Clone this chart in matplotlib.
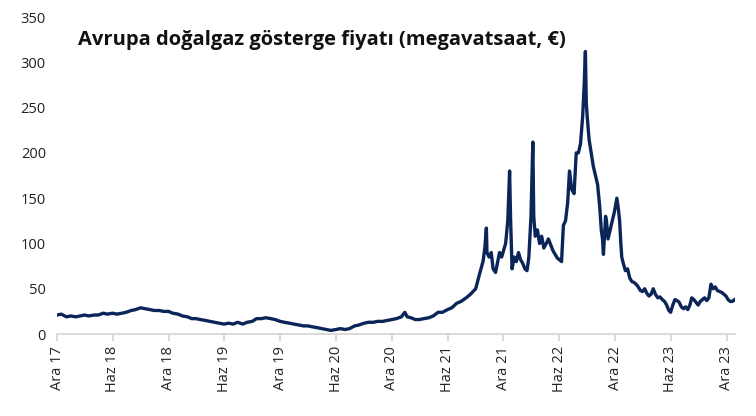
import numpy as np
import pandas as pd
import matplotlib
matplotlib.use("Agg")
import matplotlib.pyplot as plt

plt.rcParams["font.family"] = ["Open Sans", "DejaVu Sans"]

# TTF price
dates = [
    "2017-12-01", "2017-12-15", "2018-01-01", "2018-01-15", "2018-02-01", "2018-02-15",
    "2018-03-01", "2018-03-15", "2018-04-01", "2018-04-15", "2018-05-01", "2018-05-15",
    "2018-06-01", "2018-06-15", "2018-07-01", "2018-07-15", "2018-08-01", "2018-08-15",
    "2018-09-01", "2018-09-15", "2018-10-01", "2018-10-15", "2018-11-01", "2018-11-15",
    "2018-12-01", "2018-12-15", "2019-01-01", "2019-01-15", "2019-02-01", "2019-02-15",
    "2019-03-01", "2019-03-15", "2019-04-01", "2019-04-15", "2019-05-01", "2019-05-15",
    "2019-06-01", "2019-06-15", "2019-07-01", "2019-07-15", "2019-08-01", "2019-08-15",
    "2019-09-01", "2019-09-15", "2019-10-01", "2019-10-15", "2019-11-01", "2019-11-15",
    "2019-12-01", "2019-12-15", "2020-01-01", "2020-01-15", "2020-02-01", "2020-02-15",
    "2020-03-01", "2020-03-15", "2020-04-01", "2020-04-15", "2020-05-01", "2020-05-15",
    "2020-06-01", "2020-06-15", "2020-07-01", "2020-07-15", "2020-08-01", "2020-08-15",
    "2020-09-01", "2020-09-15", "2020-10-01", "2020-10-15", "2020-11-01", "2020-11-15",
    "2020-12-01", "2020-12-15", "2021-01-01", "2021-01-12", "2021-01-20", "2021-02-01",
    "2021-02-15", "2021-03-01", "2021-03-15", "2021-04-01", "2021-04-15", "2021-05-01",
    "2021-05-15", "2021-06-01", "2021-06-15", "2021-07-01", "2021-07-15", "2021-08-01",
    "2021-08-15", "2021-09-01", "2021-09-15", "2021-09-25", "2021-10-01", "2021-10-06",
    "2021-10-08", "2021-10-15", "2021-10-22", "2021-10-28", "2021-11-05", "2021-11-12",
    "2021-11-18", "2021-11-25", "2021-12-01", "2021-12-08", "2021-12-15", "2021-12-21",
    "2021-12-24", "2021-12-29", "2022-01-05", "2022-01-12", "2022-01-19", "2022-01-26",
    "2022-02-02", "2022-02-09", "2022-02-16", "2022-02-22", "2022-03-01", "2022-03-07",
    "2022-03-10", "2022-03-15", "2022-03-22", "2022-03-29", "2022-04-05", "2022-04-12",
    "2022-04-20", "2022-04-27", "2022-05-05", "2022-05-12", "2022-05-19", "2022-05-26",
    "2022-06-02", "2022-06-09", "2022-06-15", "2022-06-22", "2022-06-29", "2022-07-05",
    "2022-07-12", "2022-07-20", "2022-07-27", "2022-08-03", "2022-08-10", "2022-08-17",
    "2022-08-22", "2022-08-26", "2022-08-29", "2022-09-01", "2022-09-07", "2022-09-14",
    "2022-09-21", "2022-09-28", "2022-10-05", "2022-10-12", "2022-10-17", "2022-10-21",
    "2022-10-24", "2022-10-27", "2022-10-31", "2022-11-03", "2022-11-08", "2022-11-15",
    "2022-11-22", "2022-11-29", "2022-12-07", "2022-12-12", "2022-12-16", "2022-12-20",
    "2022-12-23", "2022-12-28", "2023-01-04", "2023-01-11", "2023-01-18", "2023-01-25",
    "2023-02-01", "2023-02-08", "2023-02-15", "2023-02-22", "2023-03-01", "2023-03-08",
    "2023-03-15", "2023-03-22", "2023-03-29", "2023-04-05", "2023-04-12", "2023-04-20",
    "2023-04-27", "2023-05-05", "2023-05-12", "2023-05-19", "2023-05-26", "2023-06-01",
    "2023-06-08", "2023-06-15", "2023-06-22", "2023-06-29", "2023-07-06", "2023-07-13",
    "2023-07-20", "2023-07-27", "2023-08-03", "2023-08-09", "2023-08-16", "2023-08-23",
    "2023-08-30", "2023-09-06", "2023-09-13", "2023-09-20", "2023-09-27", "2023-10-04",
    "2023-10-11", "2023-10-18", "2023-10-25", "2023-11-01", "2023-11-08", "2023-11-15",
    "2023-11-22", "2023-11-29", "2023-12-06", "2023-12-13", "2023-12-20", "2023-12-27",
]
prices = [
    21, 22, 19, 20, 19, 20,
    21, 20, 21, 21, 23, 22,
    23, 22, 23, 24, 26, 27,
    29, 28, 27, 26, 26, 25,
    25, 23, 22, 20, 19, 17,
    17, 16, 15, 14, 13, 12,
    11, 12, 11, 13, 11, 13,
    14, 17, 17, 18, 17, 16,
    14, 13, 12, 11, 10, 9,
    9, 8, 7, 6, 5, 4,
    5, 6, 5, 6, 9, 10,
    12, 13, 13, 14, 14, 15,
    16, 17, 19, 24, 19, 18,
    16, 16, 17, 18, 20, 24,
    24, 27, 29, 34, 36, 40,
    44, 50, 68, 80, 95, 117,
    90, 85, 90, 72, 68, 80,
    90, 85, 92, 100, 125, 180,
    130, 72, 85, 80, 90, 82,
    78, 72, 70, 85, 130, 212,
    130, 108, 115, 100, 108, 95,
    100, 105, 98, 92, 88, 84,
    82, 80, 120, 125, 145, 180,
    160, 155, 200, 200, 210, 240,
    275, 312, 255, 240, 215, 200,
    185, 175, 165, 140, 115, 105,
    88, 105, 130, 125, 105, 115,
    125, 135, 150, 138, 125, 100,
    85, 78, 70, 72, 62, 58,
    57, 55, 52, 48, 47, 50,
    45, 42, 44, 50, 44, 40,
    41, 38, 36, 32, 26, 24,
    32, 38, 37, 35, 30, 28,
    30, 27, 32, 40, 38, 35,
    32, 36, 38, 40, 37, 40,
    55, 50, 52, 48, 47, 46,
    44, 42, 38, 36, 36, 38,
]
tick_dates = ["2017-12-01", "2018-06-01", "2018-12-01", "2019-06-01", "2019-12-01",
              "2020-06-01", "2020-12-01", "2021-06-01", "2021-12-01", "2022-06-01",
              "2022-12-01", "2023-06-01", "2023-12-01"]
tick_labels = ["Ara 17", "Haz 18", "Ara 18", "Haz 19", "Ara 19", "Haz 20", "Ara 20",
               "Haz 21", "Ara 21", "Haz 22", "Ara 22", "Haz 23", "Ara 23"]

x = pd.to_datetime(dates)

fig = plt.figure(figsize=(7.56, 4.16), dpi=100)
ax = fig.add_axes([0.0754, 0.197, 0.897, 0.762])
ax.plot(x, prices, color="#0b2559", linewidth=2.4, solid_joinstyle="round")

ax.set_ylim(0, 350)
ax.set_yticks(np.arange(0, 351, 50))
ax.set_xlim(pd.Timestamp("2017-12-01"), pd.Timestamp("2023-12-29"))
ax.set_xticks(pd.to_datetime(tick_dates))
ax.set_xticklabels(tick_labels, rotation=90)

for s in ["top", "right", "left"]:
    ax.spines[s].set_visible(False)
ax.spines["bottom"].set_color("#d4d4d4")
ax.spines["bottom"].set_linewidth(1.2)
ax.tick_params(axis="x", colors="#d4d4d4", length=5, width=1.2, labelcolor="#222222", labelsize=10.5)
ax.tick_params(axis="y", length=0, labelcolor="#222222", labelsize=10.5, pad=8)

ax.text(0.031, 0.927, "Avrupa doğalgaz gösterge fiyatı (megavatsaat, €)", transform=ax.transAxes,
        fontsize=14.5, fontweight="bold", color="#111111", va="center", ha="left")

fig.savefig("out.png", dpi=100)
